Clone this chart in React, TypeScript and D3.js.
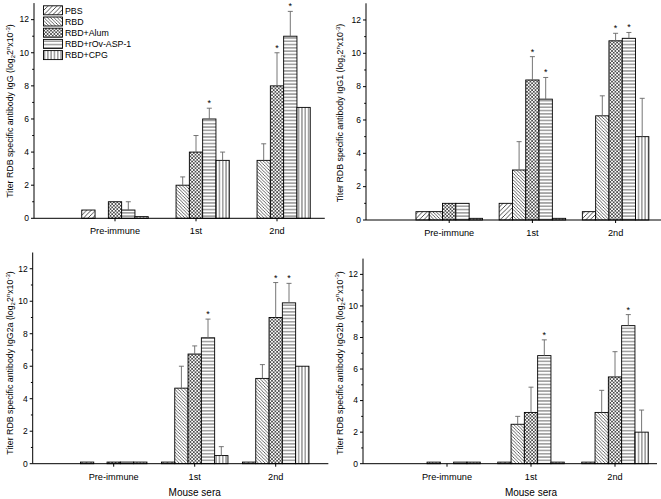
import React from "react";
import * as d3 from "d3";

const categories = ["Pre-immune", "1st", "2nd"];
const groups = ["PBS", "RBD", "RBD+Alum", "RBD+rOv-ASP-1", "RBD+CPG"];
const yTicks = [0, 2, 4, 6, 8, 10, 12];
const yMinorTicks = [1, 3, 5, 7, 9, 11];

// rows = groups, columns = categories
const iggMean = [[0.5, 0, 0], [0, 2.0, 3.5], [1.0, 4.0, 8.0], [0.5, 6.0, 11.0], [0.1, 3.5, 6.7]];
const iggErr = [[0, 0, 0], [0, 0.5, 1.0], [0, 1.0, 2.0], [0.5, 0.65, 1.5], [0, 0.5, 0]];
const iggStar = [[0, 0, 0], [0, 0, 0], [0, 0, 1], [0, 1, 1], [0, 0, 0]];

const igg1Mean = [[0.5, 1.0, 0.5], [0.5, 3.0, 6.25], [1.0, 8.4, 10.75], [1.0, 7.25, 10.9], [0.1, 0.1, 5.0]];
const igg1Err = [[0, 0, 0], [0, 1.7, 1.2], [0, 1.4, 0.45], [0, 1.3, 0.35], [0, 0, 2.3]];
const igg1Star = [[0, 0, 0], [0, 0, 0], [0, 1, 1], [0, 1, 1], [0, 0, 0]];

const igg2aMean = [[0.1, 0.1, 0.1], [0, 4.65, 5.25], [0.1, 6.75, 9.0], [0.1, 7.75, 9.9], [0.1, 0.5, 6.0]];
const igg2aErr = [[0, 0, 0], [0, 1.35, 0.85], [0, 0.5, 2.15], [0, 1.15, 1.2], [0, 0.55, 0]];
const igg2aStar = [[0, 0, 0], [0, 0, 0], [0, 0, 1], [0, 1, 1], [0, 0, 0]];

const igg2bMean = [[0, 0.1, 0.1], [0.1, 2.5, 3.25], [0, 3.25, 5.5], [0.1, 6.85, 8.75], [0.1, 0.1, 2.0]];
const igg2bErr = [[0, 0, 0], [0, 0.5, 1.4], [0, 1.6, 1.6], [0, 1.0, 0.7], [0, 0, 1.4]];
const igg2bStar = [[0, 0, 0], [0, 0, 0], [0, 0, 0], [0, 1, 1], [0, 0, 0]];

const FONT = "'Liberation Sans', Arial, Helvetica, sans-serif";
const patternIds = ["pPBS", "pRBD", "pAlum", "pASP", "pCPG"];

const panels = [
  { ab: "IgG", mean: iggMean, err: iggErr, star: iggStar, x0: 34, unit: 81, xEnd: 3.59, yB: 218.3, yT: 3.1, lx: 10, ly: 111, legend: true, xTitle: false },
  { ab: "IgG1", mean: igg1Mean, err: igg1Err, star: igg1Star, x0: 366, unit: 83.2, xEnd: 3.6, yB: 220, yT: 3.3, lx: 340, ly: 113, legend: false, xTitle: false },
  { ab: "IgG2a", mean: igg2aMean, err: igg2aErr, star: igg2aStar, x0: 32.7, unit: 81, xEnd: 3.65, yB: 463.7, yT: 252.5, lx: 10, ly: 363, legend: false, xTitle: true },
  { ab: "IgG2b", mean: igg2bMean, err: igg2bErr, star: igg2bStar, x0: 363, unit: 84, xEnd: 3.5, yB: 463.7, yT: 258.6, lx: 339.5, ly: 363, legend: false, xTitle: true },
];

const BAR_W = 13.3;

function Patterns() {
  const s1 = 4.5, s = 3.3, sc = 3.4;
  return (
    <defs>
      <pattern id="pPBS" patternUnits="userSpaceOnUse" width={s1} height={s1}>
        <rect width={s1} height={s1} fill="white" />
        <path d={`M0,${s1} L${s1},0 M-1,1 L1,-1 M${s1 - 1},${s1 + 1} L${s1 + 1},${s1 - 1}`} stroke="#000" strokeWidth={0.7} />
      </pattern>
      <pattern id="pRBD" patternUnits="userSpaceOnUse" width={s} height={s}>
        <rect width={s} height={s} fill="white" />
        <path d={`M0,0 L${s},${s} M-1,${s - 1} L1,${s + 1} M${s - 1},-1 L${s + 1},1`} stroke="#000" strokeWidth={0.6} />
      </pattern>
      <pattern id="pAlum" patternUnits="userSpaceOnUse" width={sc} height={sc}>
        <rect width={sc} height={sc} fill="white" />
        <path d={`M0,0 L${sc},${sc} M-1,${sc - 1} L1,${sc + 1} M${sc - 1},-1 L${sc + 1},1 M0,${sc} L${sc},0 M-1,1 L1,-1 M${sc - 1},${sc + 1} L${sc + 1},${sc - 1}`} stroke="#000" strokeWidth={0.6} />
      </pattern>
      <pattern id="pASP" patternUnits="userSpaceOnUse" width={s} height={s}>
        <rect width={s} height={s} fill="white" />
        <path d={`M0,${s / 2} L${s},${s / 2}`} stroke="#000" strokeWidth={0.6} />
      </pattern>
      <pattern id="pCPG" patternUnits="userSpaceOnUse" width={s} height={s}>
        <rect width={s} height={s} fill="white" />
        <path d={`M${s / 2},0 L${s / 2},${s}`} stroke="#000" strokeWidth={0.6} />
      </pattern>
    </defs>
  );
}

function Panel({ p }: { p: any }) {
  const x = d3.scaleLinear().domain([0, 3.6]).range([p.x0, p.x0 + 3.6 * p.unit]);
  const y = d3.scaleLinear().domain([0, 13]).range([p.yB, p.yT]);
  const xa = x(0);
  const bars: any[] = [];
  groups.forEach((g, gi) => {
    categories.forEach((c, ci) => {
      const v = p.mean[gi][ci];
      const e = p.err[gi][ci];
      const st = p.star[gi][ci];
      const cx = x(ci + 1) + (gi - 2) * BAR_W;
      const left = cx - BAR_W / 2;
      if (v > 0) {
        bars.push(
          <rect key={`b${gi}-${ci}`} x={left} y={y(v)} width={BAR_W} height={y(0) - y(v)} fill={`url(#${patternIds[gi]})`} stroke="#000" strokeWidth={0.9} />
        );
      }
      if (e > 0) {
        bars.push(
          <g key={`e${gi}-${ci}`} stroke="#666" strokeWidth={0.9}>
            <line x1={cx} x2={cx} y1={y(v)} y2={y(v + e)} />
            <line x1={cx - 2.5} x2={cx + 2.5} y1={y(v + e)} y2={y(v + e)} />
          </g>
        );
      }
      if (st) {
        bars.push(
          <text key={`s${gi}-${ci}`} x={cx} y={y(v + e) - 2} textAnchor="middle" fontSize={9} fontFamily={FONT} fill="#000">*</text>
        );
      }
    });
  });
  return (
    <g>
      {bars}
      {/* axes */}
      <line x1={xa} x2={xa} y1={y(0)} y2={y(13)} stroke="#000" strokeWidth={1} />
      <line x1={xa} x2={x(p.xEnd)} y1={y(0)} y2={y(0)} stroke="#000" strokeWidth={1} />
      {yTicks.map((t) => (
        <g key={`yt${t}`}>
          <line x1={xa - 3} x2={xa} y1={y(t)} y2={y(t)} stroke="#000" strokeWidth={1} />
          <text x={xa - 5} y={y(t)} dy="0.33em" textAnchor="end" fontSize={8.5} fontFamily={FONT} fill="#000">{t}</text>
        </g>
      ))}
      {yMinorTicks.map((t) => (
        <line key={`ym${t}`} x1={xa - 1.8} x2={xa} y1={y(t)} y2={y(t)} stroke="#000" strokeWidth={1} />
      ))}
      {categories.map((c, ci) => (
        <g key={`xc${ci}`}>
          <line x1={x(ci + 1)} x2={x(ci + 1)} y1={y(0)} y2={y(0) + 3} stroke="#000" strokeWidth={1} />
          <text x={x(ci + 1)} y={y(0) + 16} textAnchor="middle" fontSize={9.2} fontFamily={FONT} fill="#000">{c}</text>
        </g>
      ))}
      <text transform={`translate(${p.lx + 3},${p.ly}) rotate(-90)`} textAnchor="middle" fontSize={8.8} fontFamily={FONT} fill="#000">
        {`Titer RDB specific antibody ${p.ab} (log`}
        <tspan fontSize={6} dy={2}>2</tspan>
        <tspan dy={-2}>2</tspan>
        <tspan fontSize={6} dy={-3.5}>n</tspan>
        <tspan dy={3.5}>x10</tspan>
        <tspan fontSize={6} dy={-3.5}>-3</tspan>
        <tspan dy={3.5}>)</tspan>
      </text>
      {p.xTitle && (
        <text x={x(2)} y={y(0) + 32} textAnchor="middle" fontSize={10} fontFamily={FONT} fill="#000">Mouse sera</text>
      )}
      {p.legend && (
        <g>
          {groups.map((g, gi) => (
            <g key={`lg${gi}`}>
              <rect x={43.5} y={5.8 + gi * 11.2} width={19} height={9} fill={`url(#${patternIds[gi]})`} stroke="#000" strokeWidth={0.9} />
              <text x={65} y={13.5 + gi * 11.2} fontSize={8.8} fontFamily={FONT} fill="#000">{g}</text>
            </g>
          ))}
        </g>
      )}
    </g>
  );
}

export default function App() {
  return (
    <svg width={661} height={499} style={{ position: "absolute", left: 0, top: 0, background: "#fff" }}>
      <Patterns />
      <rect width={661} height={499} fill="#fff" />
      {panels.map((p, i) => (
        <Panel key={i} p={p} />
      ))}
    </svg>
  );
}
